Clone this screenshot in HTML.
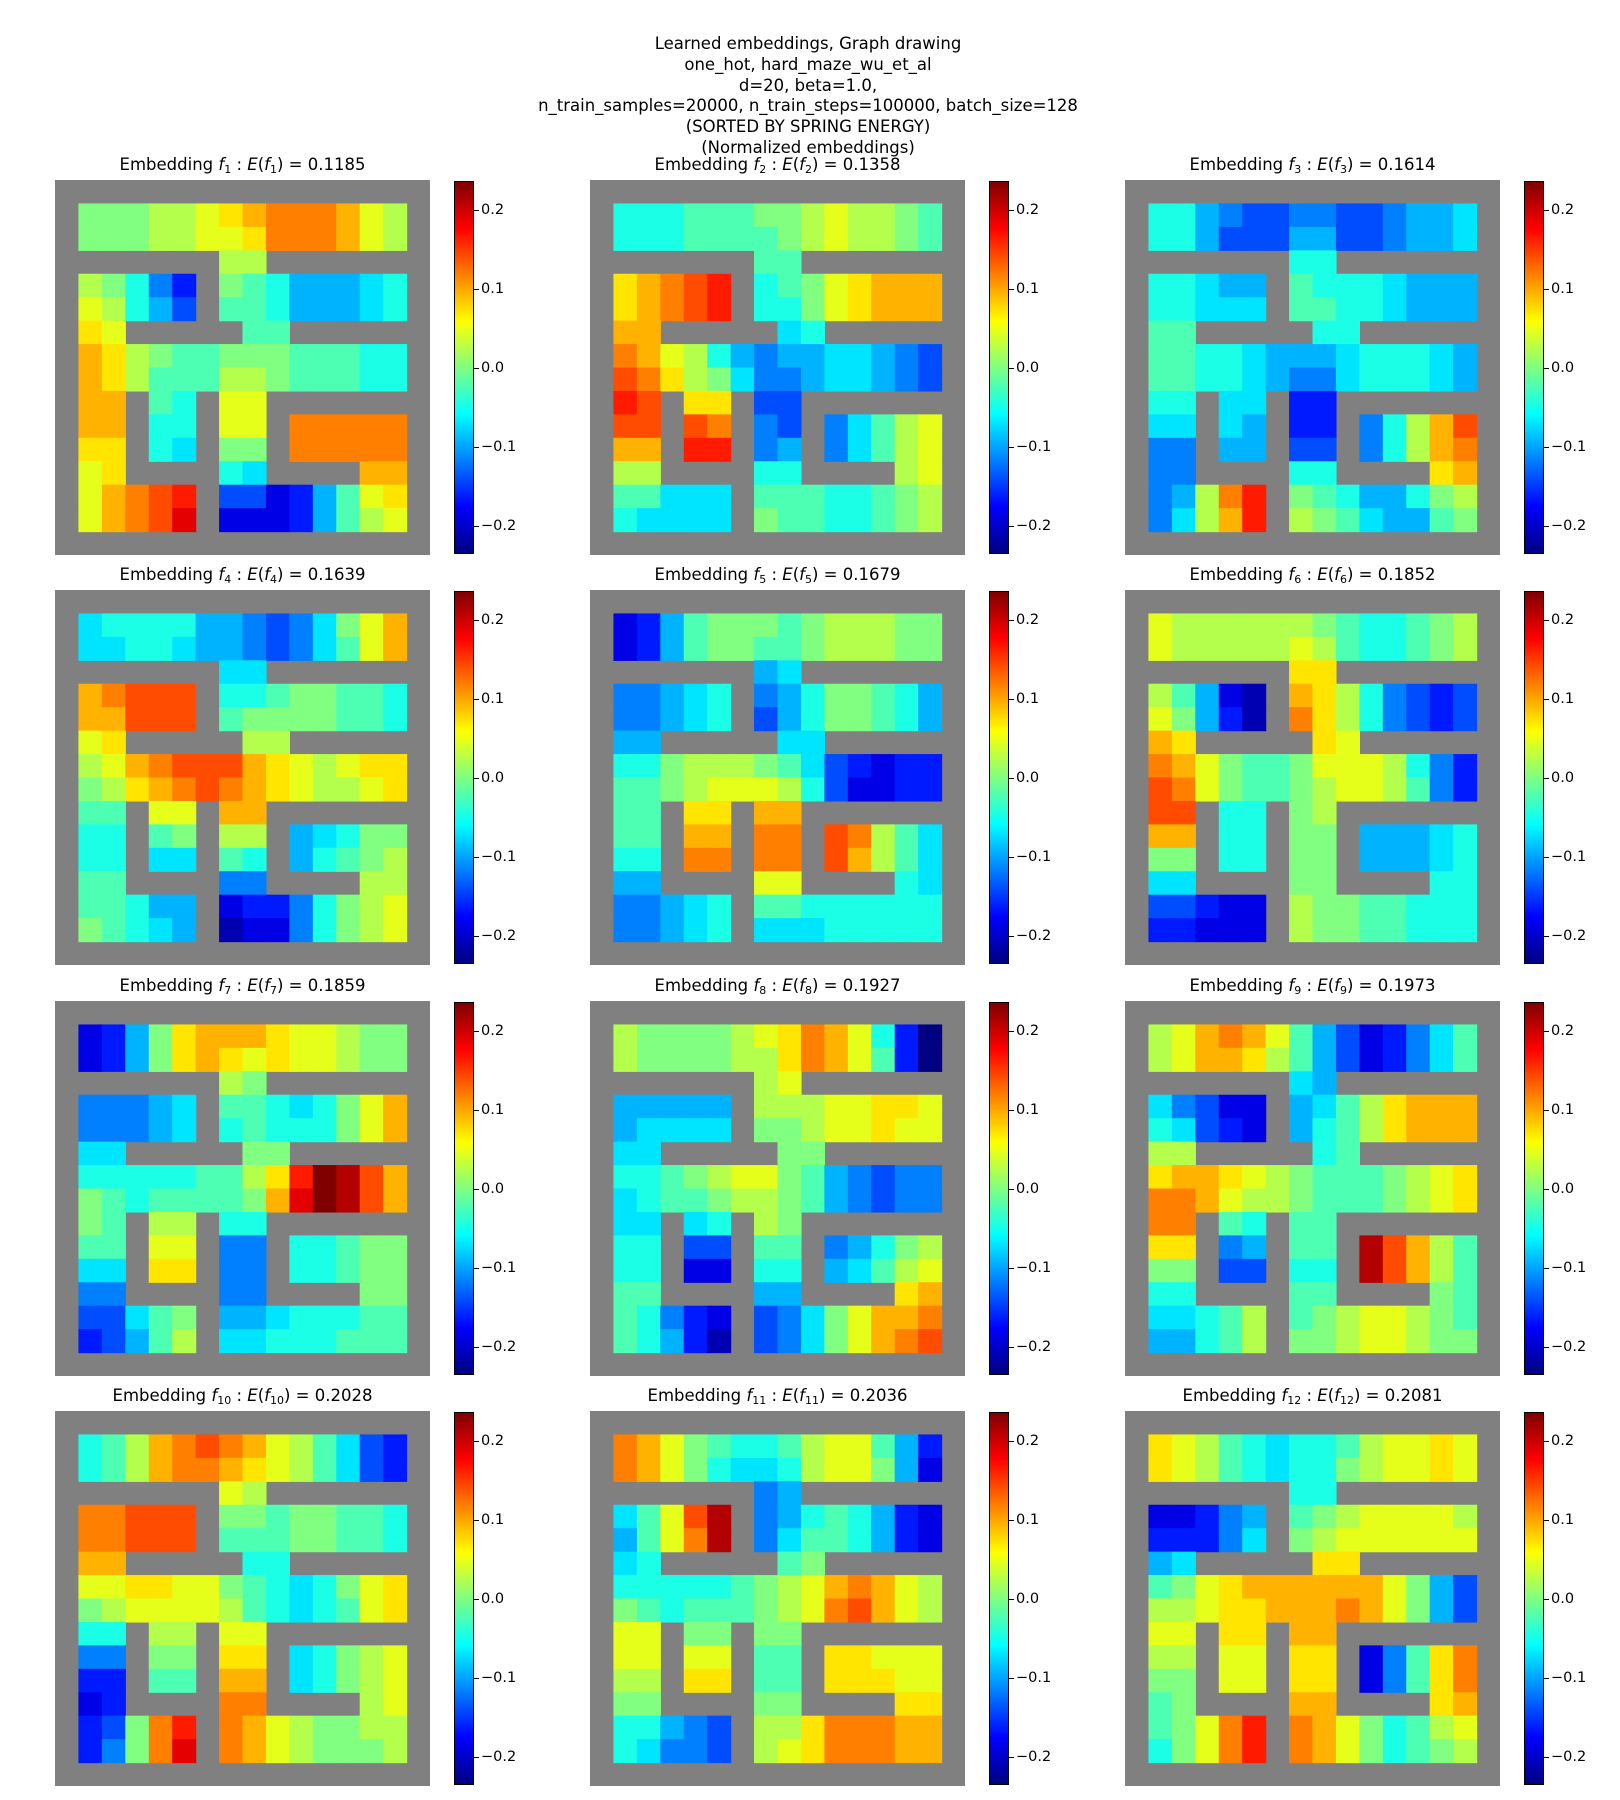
<!DOCTYPE html>
<html><head><meta charset="utf-8">
<style>
body{margin:0;background:#fff;width:1620px;height:1800px;position:relative;overflow:hidden;font-family:"DejaVu Sans","Liberation Sans",sans-serif;color:#000}
.sup{position:absolute;left:0;width:1616px;text-align:center;font-size:16.5px;line-height:20.8px;top:34px}
.t{position:absolute;width:500px;text-align:center;font-size:16.5px;line-height:20px}
.t sub{font-size:11px;vertical-align:-3px}
.cb{position:absolute;width:20px;height:373px;border:1px solid #000;box-sizing:border-box;background:linear-gradient(to top,#000080 0%,#0000ff 12.5%,#00ffff 37.5%,#80ff80 50%,#ffff00 62.5%,#ff0000 87.5%,#800000 100%)}
.tk{position:absolute;width:5px;height:1px;background:#000}
.tl{position:absolute;font-size:14.5px;line-height:16px}
</style></head><body>
<div class="sup">Learned embeddings, Graph drawing<br>one_hot, hard_maze_wu_et_al<br>d=20, beta=1.0,<br>n_train_samples=20000, n_train_steps=100000, batch_size=128<br>(SORTED BY SPRING ENERGY)<br>(Normalized embeddings)</div>
<svg id="s" width="1620" height="1800" style="position:absolute;left:0;top:0"></svg>
<div id="o"></div>
<script>
var P=[
["kkkllmnopppoml","kkkllmmnpppoml","......ll......","lkifd.kjiggghi","mlige.jjiggghi","nm.....jj.....","onlkjjkkkjjjii","onljjjllkjjjii","oo.ji.mm......","oo.ii.mm.ppppp","nn.ih.kk.ppppp","mn....ih....oo","mopqr.eecdgjmn","mopqs.cccdgjlm"],
["iiijjjkklmllkj","iiijjjjklmllkj","......jj......","nopqr.ijkmnooo","nopqr.iikmnooo","oo.....hi.....","pomligfgghhgfe","qpnlkhffghhgfe","rq.nn.ee......","qq.qp.fe.fhjlm","oo.rr.fg.fhjlm","ll....ii....lm","jjhhh.jjjiijkl","ihhhh.kjjiijkl"],
["iigfeeffeefggh","iigeeeggeefggh","......ii......","iihgg.jiiihggg","iihhh.jjiihggg","jj.....ii.....","jjiihggghiiihg","jjiihgffhiiihg","ii.hh.dd......","hh.hg.dd.filoq","ff.gg.ee.filop","ff....ii....no","fglpr.kjiggikl","fhlor.lkjhggjk"],
["hiiiiggfefhkmo","hhiihggfefhjmo","......hh......","opqqq.iijkkjji","ooqqq.jkkkkjji","mn.....ll.....","lmopqqqonmlmnn","klnopqponmllmn","jj.mm.oo......","ii.jk.ll.ghikk","ii.hh.ji.gijkl","jj....ff....ll","jjigg.cddfiklm","kjihg.bccfiklm"],
["cdgjkkkjklllkk","cdgjkkjjklllkk","......gh......","ffghi.fgikkjig","ffghi.egikkjig","gg.....hh.....","iiklllkjhedcdd","jjklmmmlieccdd","jj.nn.oo......","jj.oo.pp.qpljh","ii.pp.pp.qoljh","gg....mm....ih","ffghi.jjiiiiii","ffghi.hhhiiiii"],
["mllllllkjiijkl","mlllllmljiijkl","......nn......","ljgcb.onlifede","mkgdb.pnlifede","on.....nm.....","pomkjjkmmmlifd","qpmkjjklmmljfd","qq.ii.kl......","oo.ii.kk.ggghi","kk.ii.kk.ggghi","hh....kk....ii","eedcc.lkkjjiii","ddccc.lkkjjiii"],
["cdgknooonmmlkk","cdgknonmnmmlkk","......lk......","fffgh.jjihikmo","fffgh.ijiiikmo","hh.....kk.....","iiiiijjlnrutqo","kjijjjjkosutqo","kj.ll.ii......","jj.mm.ff.iijkk","hh.nn.ff.iijkk","ff....ff....kk","eehjk.gghiiijj","degjl.hhiiijjj"],
["lkkkklmnpomida","lkkkkllnpomjda","......lm......","ggggg.lllmmnnm","ghhhh.kklmmnmm","hh.....kk.....","iijklmmkjgfeff","hijjkllkjgfeff","hh.hi.lk......","ii.ee.jj.fgikl","ii.cc.ii.ghjlm","jj....gg....no","jifdc.efhkmoop","jigdb.efhkmopq"],
["lmopomjgecdfhj","lmoonljgecdfhj","......hg......","hfecc.ghjlnooo","ihedc.gijlnooo","ll.....ij.....","noonmlkjjjklmn","ppomllkjjjklmn","pp.ji.jj......","nn.fg.jj.tqolj","kk.ee.ii.tqolj","ii....jj....kj","hhijl.jklmmlkj","ggijl.kklmmlkk"],
["ijlopqpomljhed","ijlopponmljhed","......ml......","ppqqq.kkjkkjji","ppqqq.jjjkkjji","oo.....ii.....","mmnnmmkjihikmn","klmmmmljihijmn","ii.ll.mm......","ff.kk.nn.hiklm","dd.jj.oo.hiklm","cd....pp....lm","dekpr.pomlkkll","dfkps.pomlkkkl"],
["pomkjiijlmmjgd","pomkihhilmmkgc","......fg......","hjmqt.fgijigdc","gjmpt.fhjjigdc","hi.....jk.....","iiiiijklmopoml","kjijjjklmpqoml","mm.kk.kk......","mm.mm.jj.nnmmm","ll.nn.jj.nnnmm","kk....kk....nn","iigfe.llnpppoo","ihffe.lmnpppoo"],
["nmljihiijlmmnm","nmljihiiklmmnm","......ii......","ccdfg.jklmmmml","dddfh.klmmmmmm","gh.....nn.....","jkmnoooooomkge","llmnnooopomkge","mm.nn.oo......","ll.mm.nn.cfjnp","kk.mm.nn.cfjnp","jk....oo....no","jkmpr.pomkijlm","ikmpr.pomkijkl"]
];
var E=["0.1185","0.1358","0.1614","0.1639","0.1679","0.1852","0.1859","0.1927","0.1973","0.2028","0.2036","0.2081"];
function cl(v){return Math.max(0,Math.min(1,v));}
function jet(t){var r=cl(1.5-Math.abs(4*t-3)),g=cl(1.5-Math.abs(4*t-2)),b=cl(1.5-Math.abs(4*t-1));return "rgb("+Math.round(r*255)+","+Math.round(g*255)+","+Math.round(b*255)+")";}
var X=[55,590,1125],Y=[180,590,1001,1411],S=375,C=S/16;
var svg="",html="";
for(var p=0;p<12;p++){
 var x0=X[p%3],y0=Y[Math.floor(p/3)];
 svg+='<rect x="'+x0+'" y="'+y0+'" width="'+S+'" height="'+S+'" fill="#808080"/>';
 for(var r=0;r<14;r++){for(var c=0;c<14;c++){var ch=P[p][r][c];if(!ch||ch==='.')continue;
  var t=(ch.charCodeAt(0)-97)/20;
  var xa=x0+(c+1)*C,ya=y0+(r+1)*C;
  svg+='<rect x="'+xa.toFixed(2)+'" y="'+ya.toFixed(2)+'" width="'+(C+0.6).toFixed(2)+'" height="'+(C+0.6).toFixed(2)+'" fill="'+jet(t)+'"/>';}}
 var n=p+1;
 html+='<div class="t" style="left:'+(x0+S/2-250)+'px;top:'+(y0-25)+'px">Embedding <i>f</i><sub>'+n+'</sub> : <i>E</i>(<i>f</i><sub>'+n+'</sub>) = '+E[p]+'</div>';
 var cx=x0+399;
 html+='<div class="cb" style="left:'+cx+'px;top:'+(y0+1)+'px"></div>';
 var lab=["0.2","0.1","0.0","\u22120.1","\u22120.2"];
 for(var k=0;k<5;k++){var ty=y0+187.5+(k-2)*79;
  html+='<div class="tk" style="left:'+(cx+20)+'px;top:'+Math.round(ty)+'px"></div>';
  html+='<div class="tl" style="left:'+(cx+27)+'px;top:'+Math.round(ty-8)+'px">'+lab[k]+'</div>';}
}
document.getElementById("s").innerHTML=svg;
document.getElementById("o").innerHTML=html;
</script>
</body></html>
